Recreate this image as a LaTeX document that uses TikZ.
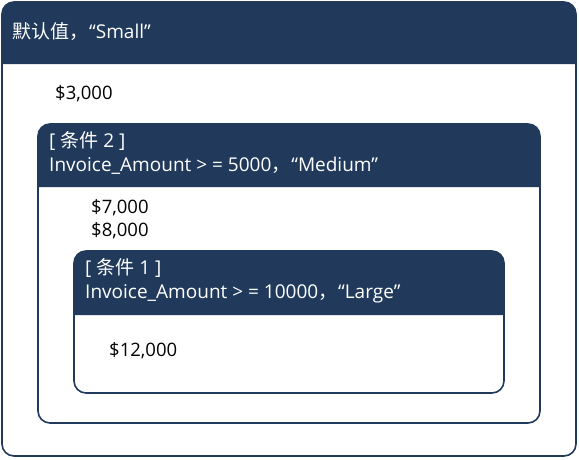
\documentclass[tikz,border=0pt]{standalone}
\usepackage{fontspec}
\setmainfont{Open Sans}
\newfontfamily\cjk{Noto Sans CJK SC}
\definecolor{hdr}{HTML}{213A5C}
\tikzset{
  hdrtext/.style={anchor=west, inner sep=0pt, text=white, font=\fontsize{19}{24}\selectfont, align=left},
  bodytext/.style={anchor=west, inner sep=0pt, text=black, font=\fontsize{18.5}{23}\selectfont, align=left},
  frame/.style={draw=hdr, line width=1.6pt, rounded corners=12pt}
}
\newcommand\mypanel[5]{%
  \fill[hdr] (#1,#5) [rounded corners=12pt] -- (#1,#2) -- (#3,#2) [sharp corners] -- (#3,#5) -- cycle;
  \draw[frame] (#1,#2) rectangle (#3,#4);
}
\begin{document}
\begin{tikzpicture}[x=1pt,y=-1pt]
\useasboundingbox (0,0) rectangle (579,459);
\mypanel{2}{2}{576}{456}{64}
\mypanel{38}{124}{540}{423}{187}
\mypanel{74}{251}{504}{393}{315}
\node[hdrtext] (h1) at (12,32) {{\cjk 默认值，}\kern1pt“Small”};
\node[hdrtext] (h2) at (49,153) {[ {\cjk 条件} 2 ]\\Invoice\_Amount > = 5000{\cjk ，}\kern1pt“Medium”};
\node[hdrtext] (h3) at (85,281) {[ {\cjk 条件} 1 ]\\Invoice\_Amount > = 10000{\cjk ，}\kern1pt“Large”};
\node[bodytext] (v1) at (55,94) {\$3,000};
\node[bodytext] (v2) at (91,219) {\$7,000\\\$8,000};
\node[bodytext] (v3) at (109,351) {\$12,000};
\end{tikzpicture}
\end{document}
